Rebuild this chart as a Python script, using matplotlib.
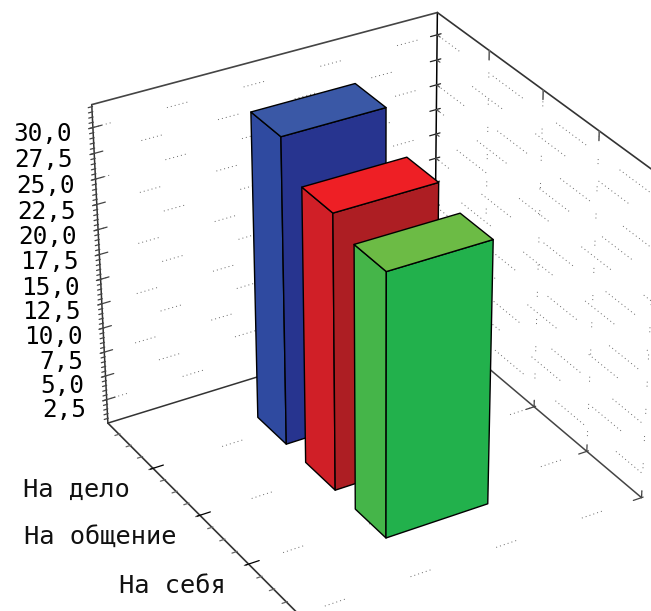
import numpy as np
import matplotlib
matplotlib.use("Agg")
import matplotlib.pyplot as plt
from matplotlib.patches import Polygon

# --- Data ---
categories = ["На дело", "На общение", "На себя"]
cat_pos = [1, 2, 3]
values = [31.0, 27.8, 26.5]
z_ticks = [2.5, 5, 7.5, 10, 12.5, 15, 17.5, 20, 22.5, 25, 27.5, 30]
z_labels = ["2,5", "5,0", "7,5", "10,0", "12,5", "15,0", "17,5", "20,0", "22,5", "25,0", "27,5", "30,0"]

# face colours: top, left side, right side
bar_colors = [("#3a58a6", "#2f4aa0", "#27348f"),
              ("#ee1f25", "#d01f27", "#ad1e23"),
              ("#6cbb45", "#45b549", "#22b14c")]

# --- Box / layout ---
W, H = 651, 611
Z_MAX = 32.2
Y_MAX = 4
BAR_X = (0.35, 0.65)
BAR_W = 0.6
LINE = "#333333"
DOT = "#666666"

# box points in the picture, used to solve the perspective camera
world = [(0, 0, 0), (0, 0, Z_MAX), (1, 0, 0), (1, 0, Z_MAX),
         (0, 1, 0), (0, 2, 0), (0, 3, 0),
         (1, 2, 0), (1, 3, 0), (1, 4, 0),
         (1, 1, Z_MAX), (1, 2, Z_MAX), (1, 3, Z_MAX),
         (0, 0, 30), (1, 0, 30)]
pixels = [(108, 423), (92, 105), (435, 323), (437, 13),
          (153, 468), (200, 516), (248, 564),
          (533, 407), (587, 451), (642, 497),
          (489, 50), (543, 90), (600, 132),
          (93, 127), (437, 34)]

def solve_camera(world, pixels):
    rows, rhs = [], []
    for (x, y, z), (u, v) in zip(world, pixels):
        rows.append([x, y, z, 1, 0, 0, 0, 0, -u*x, -u*y, -u*z])
        rows.append([0, 0, 0, 0, x, y, z, 1, -v*x, -v*y, -v*z])
        rhs += [u, v]
    p = np.linalg.lstsq(np.array(rows, float), np.array(rhs, float), rcond=None)[0]
    return np.append(p, 1).reshape(3, 4)

CAM = solve_camera(world, pixels)

def proj(x, y, z):
    q = CAM @ np.array([x, y, z, 1.0])
    return q[0]/q[2], q[1]/q[2]

def line3d(ax, a, b, **kw):
    pa, pb = proj(*a), proj(*b)
    ax.plot([pa[0], pb[0]], [pa[1], pb[1]], solid_capstyle="round", **kw)

def dotted(ax, a, b, offset=0, dots=6, gap=42):
    # the grid comes out as short runs of dots in the original
    pattern = [0.7, 2.2]*(dots - 1) + [0.7, gap]
    pa, pb = proj(*a), proj(*b)
    ax.plot([pa[0], pb[0]], [pa[1], pb[1]], color=DOT, lw=0.7,
            linestyle=(offset, pattern), dash_capstyle="butt")

def draw_bar(ax, y, h, colors):
    x0, x1 = BAR_X
    y0, y1 = y - BAR_W/2, y + BAR_W/2
    top = [proj(x0, y0, h), proj(x1, y0, h), proj(x1, y1, h), proj(x0, y1, h)]
    left = [proj(x0, y0, 0), proj(x0, y1, 0), proj(x0, y1, h), proj(x0, y0, h)]
    right = [proj(x0, y1, 0), proj(x1, y1, 0), proj(x1, y1, h), proj(x0, y1, h)]
    for pts, c in zip((left, right, top), (colors[1], colors[2], colors[0])):
        ax.add_patch(Polygon(pts, closed=True, facecolor=c, edgecolor="black", lw=1.0,
                             joinstyle="round", zorder=5))

# --- Figure ---
plt.rcParams["lines.scale_dashes"] = False
fig = plt.figure(figsize=(W/100, H/100), dpi=100)
ax = fig.add_axes([0, 0, 1, 1])
ax.set_xlim(0, W)
ax.set_ylim(H, 0)
ax.axis("off")

# --- Grid ---
for i, z in enumerate(z_ticks):
    dotted(ax, (0, 0, z), (1, 0, z), offset=i*17 % 37)
    dotted(ax, (1, 0, z), (1, Y_MAX, z), offset=i*23 % 41, dots=10, gap=30)
for y in cat_pos + [4]:
    dotted(ax, (0, y, 0), (1, y, 0), offset=y*13, gap=50)
    dotted(ax, (1, y, 0), (1, y, Z_MAX), offset=y*29, dots=2, gap=16)

# --- Box edges ---
edge = dict(color=LINE, lw=1.1)
line3d(ax, (0, 0, 0), (0, 0, Z_MAX), **edge)
line3d(ax, (1, 0, 0), (1, 0, Z_MAX), color="black", lw=1.1)
line3d(ax, (0, 0, Z_MAX), (1, 0, Z_MAX), color="#444444", lw=1.2)
line3d(ax, (0, 0, 0), (1, 0, 0), **edge)
line3d(ax, (1, 0, Z_MAX), (1, Y_MAX + 0.5, Z_MAX), color="#333333", lw=1.2)
line3d(ax, (0, 0, 0), (0, Y_MAX + 0.5, 0), color="#333333", lw=1.2)
line3d(ax, (1, 0, 0), (1, Y_MAX, 0), color="#444444", lw=1.1)

# --- Ticks ---
tick = dict(color="#444444", lw=0.9)
for z in np.arange(0.5, 32.1, 0.5):
    line3d(ax, (-0.01, 0, z), (0.002, 0, z), **tick)
for z in z_ticks:
    line3d(ax, (-0.012, 0, z), (0.024, 0, z), **tick)
    line3d(ax, (0.98, 0, z), (1.012, 0, z), color="#222222", lw=0.9)
    line3d(ax, (1, 0, z), (1, 0.06, z), color="#555555", lw=0.9)
for y in np.arange(0.25, 4.6, 0.25):
    line3d(ax, (-0.012, y, 0), (0.003, y, 0), color="#666666", lw=0.9)
for y in cat_pos:
    line3d(ax, (-0.008, y, 0), (0.03, y, 0), color="black", lw=0.9)
    line3d(ax, (1, y, Z_MAX), (1, y, Z_MAX - 0.9), color="#666666", lw=1.2)
for y in (2, 3, 4):
    line3d(ax, (0.975, y, 0), (1.005, y, 0), color="#444444", lw=0.9)
    line3d(ax, (1, y, 0), (1, y, 0.7), color="#444444", lw=0.9)

# --- Bars, back to front ---
for y, h, c in zip(cat_pos, values, bar_colors):
    draw_bar(ax, y, h, c)

# --- Text ---
for z, lab in zip(z_ticks, z_labels):
    px, py = proj(0, 0, z)
    ax.text(px - 21, py + 6 + (30 - z)*0.15, lab, family="DejaVu Sans Mono", fontsize=17.6,
            ha="right", va="center", color="black")
for y, lab in zip(cat_pos, categories):
    px, py = proj(0, y, 0)
    ax.text(px - 23, py + 22, lab, family="DejaVu Sans Mono", fontsize=18.3,
            ha="right", va="center", color="#111111")

fig.savefig("out.png", dpi=100, facecolor="white")
